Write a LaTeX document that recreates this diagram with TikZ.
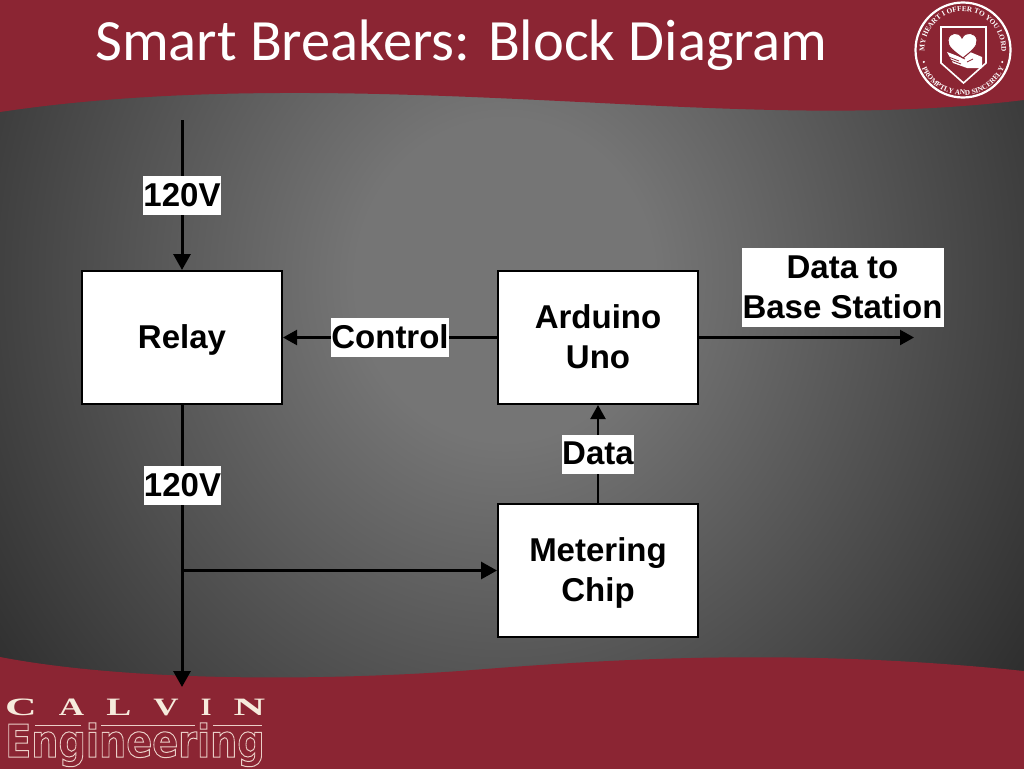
\documentclass[tikz,border=0pt]{standalone}
\usepackage{fontspec}
\setmainfont{Liberation Sans}
\newfontfamily\titlefont{Carlito}
\newfontfamily\serifcaps{Liberation Serif}
\newfontfamily\engfont{DejaVu Sans}
\usetikzlibrary{arrows.meta,decorations.text}
\definecolor{bandred}{HTML}{8B2533}
\definecolor{cream}{HTML}{F6EBDC}
\definecolor{outl}{HTML}{EBCFC8}
\definecolor{bgc}{HTML}{757575}
\definecolor{bgd}{HTML}{1E1E1E}
\pgfdeclareradialshading{bgshade}{\pgfpoint{0bp}{0bp}}{color(0bp)=(bgc); color(4bp)=(bgc); color(20bp)=(bgd); color(50bp)=(bgd)}
\newcommand{\sealfont}{\serifcaps\bfseries\fontsize{7.3}{9}\selectfont\color{white}}
\newcommand{\wide}[2]{\scalebox{#1}[1]{#2}}
\newcommand{\nudge}[2]{\raisebox{#1}[\height][\depth]{#2}}
\tikzset{
  block/.style={draw=black,line width=2pt,fill=white,minimum width=200pt,minimum height=133pt,inner sep=0pt,align=center,font=\fontsize{33}{40}\selectfont\bfseries},
  tag/.style={fill=white,inner sep=0pt,align=center,text=black,font=\fontsize{33}{40}\selectfont\bfseries},
  wire/.style={line width=3pt,black,-{Triangle[width=17pt,length=16pt]}},
  thinwire/.style={line width=2.2pt,black,-{Triangle[width=15pt,length=14pt]}},
  band/.style={fill=bandred,draw=none},
}
\begin{document}
\begin{tikzpicture}[x=1pt,y=-1pt]
\useasboundingbox (0,0) rectangle (1024,768);
\fill[bgd] (-5,-5) rectangle (1029,773);
\shade[shading=bgshade] (505,280) ellipse [x radius=930pt,y radius=1000pt];
\fill[band] (-5,-5) -- (1029,-5) -- (1029,100) -- (1024,100) .. controls (900,115) and (780,112) .. (620,104)
  .. controls (420,94) and (200,82) .. (0,112) -- (-5,112) -- cycle;
\fill[band] (-5,657) -- (0,657) .. controls (120,680) and (300,682) .. (460,671)
  .. controls (620,658) and (800,648) .. (1024,671) -- (1029,671) -- (1029,773) -- (-5,773) -- cycle;

% title
\node[anchor=base west,inner sep=0pt,text=white,font=\titlefont\fontsize{58.5}{64}\selectfont] (title) at (95,60) {Smart Breakers: Block Diagram};

% blocks
\node[block] (relay) at (182,337.5) {\nudge{-2pt}{Relay}};
\node[block] (uno) at (598,337.5) {\nudge{0.7pt}{Arduino}\\\nudge{0.7pt}{Uno}};
\node[block] (chip) at (598,570.5) {\nudge{-2pt}{Metering}\\\nudge{-2pt}{Chip}};
\coordinate (topin) at (182,120);
\coordinate (botout) at (182,687);
\coordinate (branch) at (182,570.5);
\coordinate (baseout) at (914,337.5);

% connectors
\draw[wire] (topin) -- (relay.north) node[tag,midway,minimum width=77pt,minimum height=39pt] (v1) {120V};
\draw[wire] (relay.south) -- (botout);
\draw[wire] (branch) -- (chip.west);
\draw[thinwire] (uno.west) -- (relay.east) node[tag,midway,minimum width=118pt,minimum height=39pt] (ctl) {\nudge{1pt}{Control}};
\draw[thinwire] (chip.north) -- (uno.south) node[tag,midway,minimum width=72pt,minimum height=39pt] (dat) {\nudge{1pt}{Data}};
\draw[thinwire] (uno.east) -- (baseout);
\node[tag,minimum width=77pt,minimum height=39pt] (v2) at (182.5,485.5) {120V};
\node[tag,minimum width=202pt,minimum height=79pt] (base) at (842.5,287.5) {Data to\\Base Station};

% seal
\begin{scope}[shift={(963,50)},x=1pt,y=1pt]
\draw[white,line width=2.2pt] (0,0) circle (47.5);
\path[decorate,decoration={text along path,text align=center,text={|\sealfont|MY HEART I OFFER TO YOU LORD}}]
  (188:38.5) arc (188:-8:38.5);
\path[decorate,decoration={text along path,text align=center,text={|\sealfont|PROMPTLY AND SINCERELY}}]
  (205:45) arc (205:335:45);
\fill[white] (197:41) circle (1.2) (343:41) circle (1.2);
\draw[white,line width=1.6pt,fill=bandred] (-22,23) -- (23,23) -- (23,-13) -- (0.5,-33) -- (-22,-13) -- cycle;
% hand
\fill[white] (-16,-2) -- (0,-8) -- (7,-2) -- (19,-7) -- (19,-18) -- (4,-18) -- (-10,-13) -- cycle;
\draw[bandred,line width=0.8pt] (-17,-6) -- (-4,-11) (-15,-9) -- (-2,-14) (-12,-2) -- (2,-9) (4,-12) -- (10,-9);
% heart
\draw[bandred,line width=1pt,fill=white] (0,-8) .. controls (-8,-2) and (-16,3) .. (-15,10) .. controls (-14,18) and (-4,19) .. (-1,12)
  .. controls (2,19) and (13,18) .. (14,10) .. controls (15,3) and (7,-2) .. (0,-8) -- cycle;
\end{scope}

% logo
\node[anchor=base west,inner sep=0pt,text=cream,font=\serifcaps\bfseries\fontsize{25}{30}\selectfont] (calvin) at (5,715)
  {\hbox to 260pt{\wide{1.75}{C}\hfill\wide{1.4}{A}\hfill\wide{1.5}{L}\hfill\wide{1.4}{V}\hfill\wide{1.1}{I}\hfill\wide{1.75}{N}}};
\node[anchor=base west,inner sep=0pt,text=outl,font=\engfont\bfseries\fontsize{45}{50}\selectfont] (eng) at (5,757)
  {\special{pdf:code 1 Tr 1 w}\wide{0.85}{Engineering}\special{pdf:code 0 Tr}};
\draw[outl,line width=1pt] (35,725.5) -- (81,725.5) (101,725.5) -- (195,725.5) (213,725.5) -- (262,725.5);
\end{tikzpicture}
\end{document}
